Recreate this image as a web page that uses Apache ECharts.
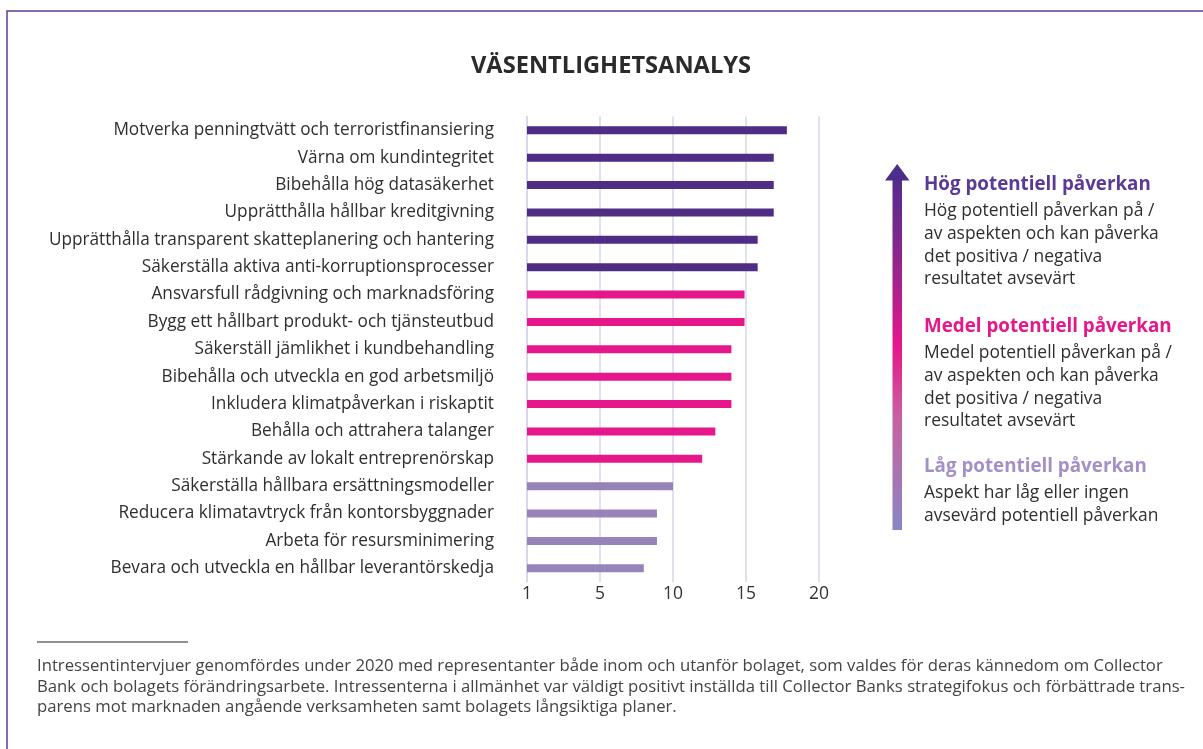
<!DOCTYPE html>
<html><head><meta charset="utf-8">
<script src="https://cdn.jsdelivr.net/npm/echarts@6/dist/echarts.min.js"></script>
<style>html,body{margin:0;padding:0;background:#fff;}#c{width:1203px;height:749px;}</style>
</head><body><div id="c"></div>
<script>
const categories = [
  'Motverka penningtvätt och terroristfinansiering',
  'Värna om kundintegritet',
  'Bibehålla hög datasäkerhet',
  'Upprätthålla hållbar kreditgivning',
  'Upprätthålla transparent skatteplanering och hantering',
  'Säkerställa aktiva anti-korruptionsprocesser',
  'Ansvarsfull rådgivning och marknadsföring',
  'Bygg ett hållbart produkt- och tjänsteutbud',
  'Säkerställ jämlikhet i kundbehandling',
  'Bibehålla och utveckla en god arbetsmiljö',
  'Inkludera klimatpåverkan i riskaptit',
  'Behålla och attrahera talanger',
  'Stärkande av lokalt entreprenörskap',
  'Säkerställa hållbara ersättningsmodeller',
  'Reducera klimatavtryck från kontorsbyggnader',
  'Arbeta för resursminimering',
  'Bevara och utveckla en hållbar leverantörskedja'
];
const values = [17.8, 16.9, 16.9, 16.9, 15.8, 15.8, 14.9, 14.9, 14.0, 14.0, 14.0, 12.9, 12.0, 10.0, 8.9, 8.9, 8.0];
const tiers = ['hog','hog','hog','hog','hog','hog','medel','medel','medel','medel','medel','medel','medel','lag','lag','lag','lag'];
const tickLabels = {0:'1', 5:'5', 10:'10', 15:'15', 20:'20'};
const title = 'VÄSENTLIGHETSANALYS';
const legendItems = [
  {tier:'hog', head:'Hög potentiell påverkan', body:['Hög potentiell påverkan på /','av aspekten och kan påverka','det positiva / negativa','resultatet avsevärt']},
  {tier:'medel', head:'Medel potentiell påverkan', body:['Medel potentiell påverkan på /','av aspekten och kan påverka','det positiva / negativa','resultatet avsevärt']},
  {tier:'lag', head:'Låg potentiell påverkan', body:['Aspekt har låg eller ingen','avsevärd potentiell påverkan']}
];
const footnote = [
  'Intressentintervjuer genomfördes under 2020 med representanter både inom och utanför bolaget, som valdes för deras kännedom om Collector',
  'Bank och bolagets förändringsarbete. Intressenterna i allmänhet var väldigt positivt inställda till Collector Banks strategifokus och förbättrade trans-',
  'parens mot marknaden angående verksamheten samt bolagets långsiktiga planer.'
];

const barColors = {hog:'#4f2d84', medel:'#e5178b', lag:'#9683b8'};
const headColors = {hog:'#5a3a96', medel:'#e5178b', lag:'#a490c6'};
const FAM = '"Open Sans", Lato, sans-serif';

// size a font so a sample string matches the width it has in the reference layout
const cv = document.createElement('canvas').getContext('2d');
function fit(text, target, weight){
  cv.font = (weight||'normal') + ' 100px ' + FAM;
  return +(100 * target / cv.measureText(text).width).toFixed(2);
}
const catSize = fit(categories[0], 381);
const titleSize = fit(title, 280, 'bold');
const headSize = fit(legendItems[1].head, 248, 'bold');
const bodySize = fit(legendItems[1].body[0], 248);
const footSize = fit(footnote[0], 1127);
const tickSize = fit('20', 20);

const chart = echarts.init(document.getElementById('c'), null, {renderer:'canvas'});

const graphics = [];
graphics.push({type:'rect', shape:{x:7, y:11, width:1400, height:900}, style:{fill:'none', stroke:'#5b3e96', lineWidth:1.5}, silent:true});
graphics.push({type:'text', x:611, y:66, style:{text:title, font:'bold '+titleSize+'px '+FAM, fill:'#2b2b2b', textAlign:'center', textVerticalAlign:'middle'}});
// arrow
const grad = () => new echarts.graphic.LinearGradient(0,0,0,1,[
    {offset:0,color:'#4b2d8a'},{offset:0.2,color:'#6e2a8d'},{offset:0.5,color:'#e5178b'},{offset:0.7,color:'#c9609f'},{offset:1,color:'#8a86c6'}], false);
graphics.push({type:'rect', shape:{x:892.5, y:176, width:9.5, height:354},
  style:{fill:new echarts.graphic.LinearGradient(0,0,0,1,[
    {offset:0,color:'#532c8b'},{offset:0.17,color:'#7a288e'},{offset:0.48,color:'#e5178b'},{offset:0.68,color:'#c8619f'},{offset:1,color:'#8a86c6'}])}});
graphics.push({type:'polygon', shape:{points:[[885,180.5],[897.2,164],[909.5,180.5]]}, style:{fill:'#4b2d8a'}});
const legendY = [185, 327, 467];
legendItems.forEach((it,i)=>{
  graphics.push({type:'text', x:924, y:legendY[i], style:{text:it.head, font:'bold '+headSize+'px '+FAM, fill:headColors[it.tier], textVerticalAlign:'middle'}});
  it.body.forEach((ln,j)=>{
    graphics.push({type:'text', x:924, y:legendY[i]+26.5+j*22.6, style:{text:ln, font:bodySize+'px '+FAM, fill:'#2f2f2f', textVerticalAlign:'middle'}});
  });
});
graphics.push({type:'line', shape:{x1:37, y1:642, x2:188, y2:642}, style:{stroke:'#222', lineWidth:1}});
footnote.forEach((ln,j)=>{
  graphics.push({type:'text', x:37, y:666.5+j*20.4, style:{text:ln, font:footSize+'px '+FAM, fill:'#444', textVerticalAlign:'middle'}});
});

chart.setOption({
  backgroundColor:'#fff',
  animation:false,
  grid:{left:527, right:384, top:116.6, height:465.4, containLabel:false},
  xAxis:{type:'value', min:0, max:20, interval:5,
    axisLine:{show:false}, axisTick:{show:false},
    splitLine:{show:true, lineStyle:{color:'#d9d4e8', width:1.5}},
    axisLabel:{margin:4, fontSize:tickSize, color:'#333', fontFamily:FAM, formatter:v=>tickLabels[v]}
  },
  yAxis:{type:'category', data:categories, inverse:true,
    axisLine:{show:true, lineStyle:{color:'#d9d4e8', width:1.5}}, axisTick:{show:false},
    axisLabel:{margin:33, fontSize:catSize, color:'#2f2f2f', fontFamily:FAM}
  },
  series:[{type:'bar', barWidth:8,
    data:values.map((v,i)=>({value:v, itemStyle:{color:barColors[tiers[i]]}}))}],
  graphic:graphics
});
</script></body></html>
